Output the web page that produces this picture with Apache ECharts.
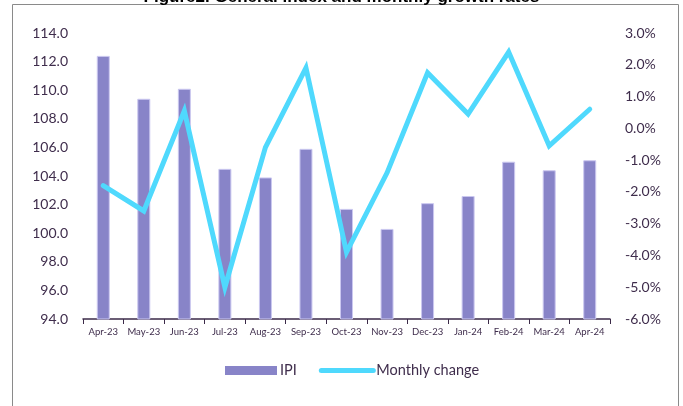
<!DOCTYPE html>
<html>
<head>
<meta charset="utf-8">
<script src="https://cdn.jsdelivr.net/npm/echarts@6/dist/echarts.min.js"></script>
<style>
  html, body { margin: 0; padding: 0; background: #fff; }
  #chart { width: 683px; height: 406px; }
</style>
</head>
<body>
<div id="chart"></div>
<script>
// months on the x axis
var months = ['Apr-23', 'May-23', 'Jun-23', 'Jul-23', 'Aug-23', 'Sep-23', 'Oct-23',
  'Nov-23', 'Dec-23', 'Jan-24', 'Feb-24', 'Mar-24', 'Apr-24'];
// IPI index (left axis)
var ipi = [112.4, 109.4, 110.1, 104.5, 103.9, 105.9, 101.7, 100.3, 102.1, 102.6, 105.0, 104.4, 105.1];
// monthly change in % (right axis)
var monthlyChange = [-1.8, -2.6, 0.55, -5.0, -0.6, 1.9, -3.9, -1.4, 1.75, 0.45, 2.4, -0.55, 0.6];

var textColor = '#3f2d4c';
var font = 'Lato';
var lineColor = '#4fd9fd';

var chart = echarts.init(document.getElementById('chart'));
chart.setOption({
  animation: false,
  title: {
    text: 'Figure2. General index and monthly growth rates',
    left: 'center',
    top: -16,
    textStyle: { fontFamily: 'Liberation Sans', fontSize: 17, fontWeight: 'bold', color: '#000' }
  },
  graphic: [{
    type: 'rect',
    shape: { x: 12.5, y: 4.5, width: 666, height: 420 },
    style: { fill: 'none', stroke: '#8a8a8a', lineWidth: 1 },
    z: -1
  }],
  grid: { left: 83, right: 73, top: 33, bottom: 87 },
  legend: {
    bottom: 23,
    left: 220,
    itemGap: 22,
    itemWidth: 52,
    itemHeight: 9,
    textStyle: { fontFamily: font, fontSize: 14.5, color: textColor, padding: [0, 0, 0, -2] },
    data: [
      { name: 'IPI', icon: 'rect', itemStyle: { borderWidth: 0 } },
      { name: 'Monthly change', lineStyle: { width: 5, color: lineColor, cap: 'round' }, itemStyle: { opacity: 0 } }
    ]
  },
  xAxis: {
    type: 'category',
    data: months,
    axisLine: { onZero: false, lineStyle: { color: '#3b2a48', width: 1.5 } },
    axisTick: { show: true, length: 5, lineStyle: { color: '#3b2a48' } },
    axisLabel: { fontFamily: font, fontSize: 9.5, color: textColor, margin: 8, interval: 0 }
  },
  yAxis: [{
    type: 'value',
    min: 94,
    max: 114,
    interval: 2,
    splitLine: { show: false },
    axisLine: { show: false },
    axisLabel: {
      fontFamily: font, fontSize: 14, color: textColor, margin: 15,
      formatter: function (v) { return v.toFixed(1); }
    }
  }, {
    type: 'value',
    min: -6,
    max: 3,
    interval: 1,
    splitLine: { show: false },
    axisLine: { show: false },
    axisLabel: {
      fontFamily: font, fontSize: 14, color: textColor, margin: 15,
      formatter: function (v) { return v.toFixed(1) + '%'; }
    }
  }],
  series: [{
    name: 'IPI',
    type: 'bar',
    data: ipi,
    barWidth: 13,
    itemStyle: { color: '#8884c8', borderColor: '#cbc8f0', borderWidth: 1 }
  }, {
    name: 'Monthly change',
    type: 'line',
    yAxisIndex: 1,
    data: monthlyChange,
    symbol: 'none',
    lineStyle: { color: lineColor, width: 5, cap: 'round', join: 'miter' },
    itemStyle: { color: lineColor }
  }]
});
</script>
</body>
</html>
